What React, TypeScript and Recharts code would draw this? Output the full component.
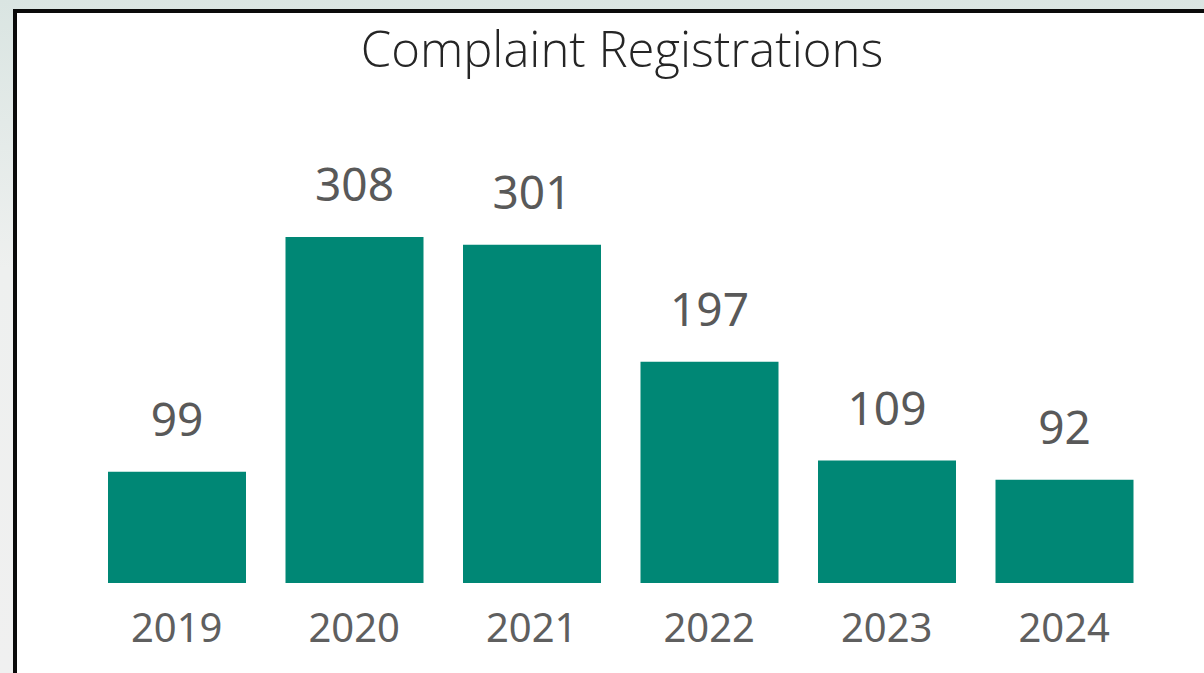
import { BarChart, Bar, XAxis, YAxis, LabelList } from 'recharts';

const years = ['2019', '2020', '2021', '2022', '2023', '2024'];
const registrations = [99, 308, 301, 197, 109, 92];

const chartData = years.map((year, i) => ({ year, count: registrations[i] }));

const numFont = '"Segoe UI", "Noto Sans", "Open Sans", sans-serif';

export default function App() {
  return (
    <div
      style={{
        position: 'fixed',
        left: 0,
        top: 0,
        width: 1204,
        height: 673,
        overflow: 'hidden',
        background: 'linear-gradient(180deg, #dae5e2 0%, #eef0ef 40%, #f0f0f0 100%)',
      }}
    >
      {/* panel with the black top/left edge */}
      <div
        style={{
          position: 'absolute',
          left: 13,
          top: 9,
          width: 1204,
          height: 700,
          background: '#fff',
          borderTop: '4px solid #0a0a0a',
          borderLeft: '4px solid #0a0a0a',
        }}
      />
      <div
        style={{
          position: 'absolute',
          left: 0,
          width: 1244,
          top: 18,
          textAlign: 'center',
          fontFamily: '"Open Sans", "Segoe UI", sans-serif',
          fontWeight: 300,
          fontSize: 49,
          lineHeight: '60px',
          color: '#252525',
        }}
      >
        Complaint Registrations
      </div>
      <div style={{ position: 'absolute', left: 0, top: 0 }}>
        <BarChart
          width={1204}
          height={673}
          data={chartData}
          margin={{ top: 201, right: 51, bottom: 30, left: 88 }}
        >
          <XAxis
            dataKey="year"
            axisLine={false}
            tickLine={false}
            height={60}
            tickMargin={25}
            tick={{ fill: '#5f5f5f', fontSize: 40, fontFamily: numFont }}
          />
          <YAxis hide domain={[0, 340]} />
          <Bar dataKey="count" fill="#008775" barSize={138} isAnimationActive={false}>
            <LabelList
              dataKey="count"
              position="top"
              offset={36}
              fill="#595959"
              fontSize={46}
              fontFamily={numFont}
            />
          </Bar>
        </BarChart>
      </div>
    </div>
  );
}
